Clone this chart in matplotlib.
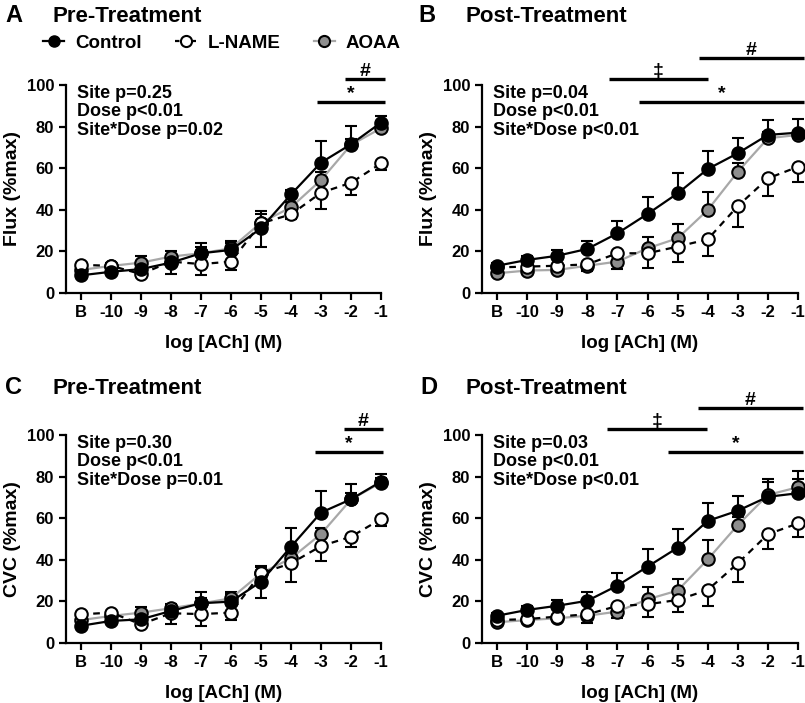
import matplotlib
matplotlib.use("Agg")
from matplotlib import pyplot as plt
from matplotlib.lines import Line2D

plt.rcParams['font.family'] = ['Liberation Sans', 'DejaVu Sans']
plt.rcParams['font.weight'] = 'bold'

doses = ['B', '-10', '-9', '-8', '-7', '-6', '-5', '-4', '-3', '-2', '-1']

# A: flux, pre-treatment
ctl_flux_pre = [8.5, 10.2, 11.5, 14.6, 19.1, 20.7, 31.1, 47.4, 62.7, 71.5, 81.9]
ctl_flux_pre_se = [1.5, 2.5, 2, 3.5, 5, 4.5, 8.5, 2, 10.3, 8.8, 3]
lname_flux_pre = [13.5, 13.1, 9.1, 15.1, 13.9, 15.1, 33.5, 37.8, 48.2, 53.0, 62.3]
lname_flux_pre_se = [1.5, 2, 1.5, 6, 5.2, 4, 11.5, 2, 8, 5.9, 3.2]
aoaa_flux_pre = [11.1, 13.0, 14.6, 17.5, 19.1, 21.5, 33.8, 41.2, 54.3, 71.2, 79.2]
aoaa_flux_pre_se = [1.5, 1.5, 3, 2.5, 3, 2.5, 4, 2.5, 4, 3, 2]

# B: flux, post-treatment
ctl_flux_post = [13.1, 15.9, 17.9, 21.2, 28.7, 38.0, 47.9, 59.6, 67.2, 76.0, 77.1]
ctl_flux_post_se = [1.5, 2, 2.8, 4, 5.9, 8, 9.6, 8.7, 7.2, 7, 6.5]
lname_flux_post = [12.3, 12.7, 13.1, 13.8, 19.1, 19.1, 22.3, 25.8, 41.8, 55.1, 60.7]
lname_flux_post_se = [1.5, 1.5, 2, 3.2, 7.5, 6.9, 7.2, 8, 10.2, 8.3, 7.2]
aoaa_flux_post = [9.5, 10.8, 11.1, 13.1, 15.1, 21.5, 26.3, 39.9, 58.3, 74.4, 76.0]
aoaa_flux_post_se = [1, 1.5, 1.5, 2, 3, 5.3, 6.7, 8.8, 4, 3, 2]

# C: CVC, pre-treatment
ctl_cvc_pre = [8.3, 10.6, 11.4, 15.4, 19.1, 19.9, 29.5, 46.3, 62.7, 69.1, 77.6]
ctl_cvc_pre_se = [1.5, 2, 2, 3, 5.3, 4.5, 7.5, 9.1, 10.3, 7.2, 3.5]
lname_cvc_pre = [13.8, 14.6, 9.0, 14.3, 13.9, 14.6, 33.5, 38.3, 46.6, 51.1, 59.6]
lname_cvc_pre_se = [1, 1.5, 1.5, 5, 5.6, 3.6, 12, 8.8, 7, 5, 3.4]
aoaa_cvc_pre = [11.0, 13.0, 14.6, 16.7, 19.0, 21.5, 33.5, 40.7, 52.4, 69.0, 77.1]
aoaa_cvc_pre_se = [1, 1.5, 2.5, 2, 2.5, 2, 3, 2.5, 3, 3, 2]

# D: CVC, post-treatment
ctl_cvc_post = [13.1, 15.9, 17.9, 20.3, 27.6, 36.7, 45.8, 58.7, 63.6, 70.3, 72.0]
ctl_cvc_post_se = [1.5, 2, 2.8, 4.1, 5.9, 8.3, 8.9, 8.8, 7.1, 8.4, 6.8]
lname_cvc_post = [11.0, 11.5, 12.7, 13.8, 17.8, 18.6, 20.7, 25.5, 38.3, 52.3, 57.5]
lname_cvc_post_se = [1, 1.5, 2, 4.4, 5.9, 5.9, 5.6, 7.6, 8.8, 7.1, 6.4]
aoaa_cvc_post = [10.0, 11.0, 11.9, 13.1, 15.1, 21.0, 25.2, 40.2, 56.7, 71.2, 74.9]
aoaa_cvc_post_se = [1, 1, 1.5, 2, 3, 6.1, 5.4, 9.3, 4, 6.3, 7.9]

stats_a = "Site p=0.25\nDose p<0.01\nSite*Dose p=0.02"
stats_b = "Site p=0.04\nDose p<0.01\nSite*Dose p<0.01"
stats_c = "Site p=0.30\nDose p<0.01\nSite*Dose p=0.01"
stats_d = "Site p=0.03\nDose p<0.01\nSite*Dose p<0.01"

# significance bars: symbol, from, to (dose index), height
sig_a = [('*', 7.87, 10.13, 92), ('#', 8.8, 10.13, 103)]
sig_b = [('*', 4.73, 10.2, 92), ('\u2021', 3.73, 7.0, 103), ('#', 6.7, 10.2, 113)]
sig_c = [('*', 7.8, 10.07, 92), ('#', 8.77, 10.07, 103)]
sig_d = [('*', 5.67, 10.17, 92), ('\u2021', 3.67, 6.97, 103), ('#', 6.67, 10.17, 113)]

GREY_LINE = '#a8a8a8'
GREY_FILL = '#8e8e8e'

W, H = 805, 703
fig = plt.figure(figsize=(W / 100, H / 100), dpi=100)


def px_axes(left, top, right, bottom):
    return fig.add_axes([left / W, 1 - bottom / H, (right - left) / W, (bottom - top) / H])


def draw_series(ax, x, y, se, side, color, face, ls):
    lo = [s if side in ('down', 'both') else 0 for s in se]
    hi = [s if side in ('up', 'both') else 0 for s in se]
    ax.errorbar(x, y, yerr=[lo, hi], fmt='none', ecolor='black', elinewidth=1.5,
                capsize=4, capthick=1.5, clip_on=False, zorder=2)
    ax.plot(x, y, color=color, ls=ls, lw=1.6, marker='o', ms=9, mfc=face,
            mec='black', mew=1.5, clip_on=False, zorder=3)


def panel(ax, ctl, ctl_se, ln, ln_se, ao, ao_se, ylabel, stats, sig):
    x = list(range(len(doses)))
    draw_series(ax, x, ao, ao_se, 'up', GREY_LINE, GREY_FILL, '-')
    draw_series(ax, x, ln, ln_se, 'down', 'black', 'white', (0, (3, 2.5)))
    draw_series(ax, x, ctl, ctl_se, 'up', 'black', 'black', '-')
    ax.set_xlim(-0.5, 10)
    ax.set_ylim(0, 100)
    ax.set_xticks(x)
    ax.set_xticklabels(doses)
    ax.set_yticks([0, 20, 40, 60, 80, 100])
    ax.spines['top'].set_visible(False)
    ax.spines['right'].set_visible(False)
    for s in ['left', 'bottom']:
        ax.spines[s].set_linewidth(1.6)
    ax.tick_params(width=1.6, length=5, labelsize=12)
    ax.set_xlabel('log [ACh] (M)', fontsize=13.5, fontweight='bold', labelpad=11)
    ax.set_ylabel(ylabel, fontsize=14, fontweight='bold', labelpad=4)
    ax.text(0.035, 1.0, stats, transform=ax.transAxes, va='top', ha='left',
            fontsize=13, fontweight='bold', linespacing=1.1)
    for sym, x0, x1, yv in sig:
        ax.plot([x0, x1], [yv, yv], color='black', lw=2.4, clip_on=False,
                solid_capstyle='butt')
        ax.text((x0 + x1) / 2, yv + 1.5, sym, ha='center', va='baseline',
                fontsize=14, fontweight='bold')


axA = px_axes(66, 85, 381, 293)
axB = px_axes(482, 85, 798, 293)
axC = px_axes(66, 435, 381, 643)
axD = px_axes(482, 435, 798, 643)

panel(axA, ctl_flux_pre, ctl_flux_pre_se, lname_flux_pre, lname_flux_pre_se,
      aoaa_flux_pre, aoaa_flux_pre_se, 'Flux (%max)', stats_a, sig_a)
panel(axB, ctl_flux_post, ctl_flux_post_se, lname_flux_post, lname_flux_post_se,
      aoaa_flux_post, aoaa_flux_post_se, 'Flux (%max)', stats_b, sig_b)
panel(axC, ctl_cvc_pre, ctl_cvc_pre_se, lname_cvc_pre, lname_cvc_pre_se,
      aoaa_cvc_pre, aoaa_cvc_pre_se, 'CVC (%max)', stats_c, sig_c)
panel(axD, ctl_cvc_post, ctl_cvc_post_se, lname_cvc_post, lname_cvc_post_se,
      aoaa_cvc_post, aoaa_cvc_post_se, 'CVC (%max)', stats_d, sig_d)

# panel letters and titles
for letter, title, lx, tx, ty in [('A', 'Pre-Treatment', 5, 52, 16),
                                  ('B', 'Post-Treatment', 418, 465, 16),
                                  ('C', 'Pre-Treatment', 5, 52, 388),
                                  ('D', 'Post-Treatment', 420, 465, 388)]:
    fig.text(lx / W, 1 - ty / H, letter, fontsize=17, fontweight='bold', va='center')
    fig.text(tx / W, 1 - ty / H, title, fontsize=16, fontweight='bold', va='center')

handles = [
    Line2D([], [], color='black', lw=1.6, marker='o', ms=8, mfc='black', mec='black'),
    Line2D([], [], color='black', lw=1.6, ls=(0, (2, 2)), marker='o', ms=8, mfc='white',
           mec='black', mew=1.5),
    Line2D([], [], color=GREY_LINE, lw=1.6, marker='o', ms=8, mfc=GREY_FILL, mec='black',
           mew=1.5),
]
fig.legend(handles, ['Control', 'L-NAME', 'AOAA'], loc='center', ncol=3,
           bbox_to_anchor=(222 / W, 1 - 43 / H), frameon=False, handlelength=1.1,
           handletextpad=0.6, columnspacing=1.8,
           prop={'size': 13.5, 'weight': 'bold'})

fig.savefig('out.png', dpi=100)
